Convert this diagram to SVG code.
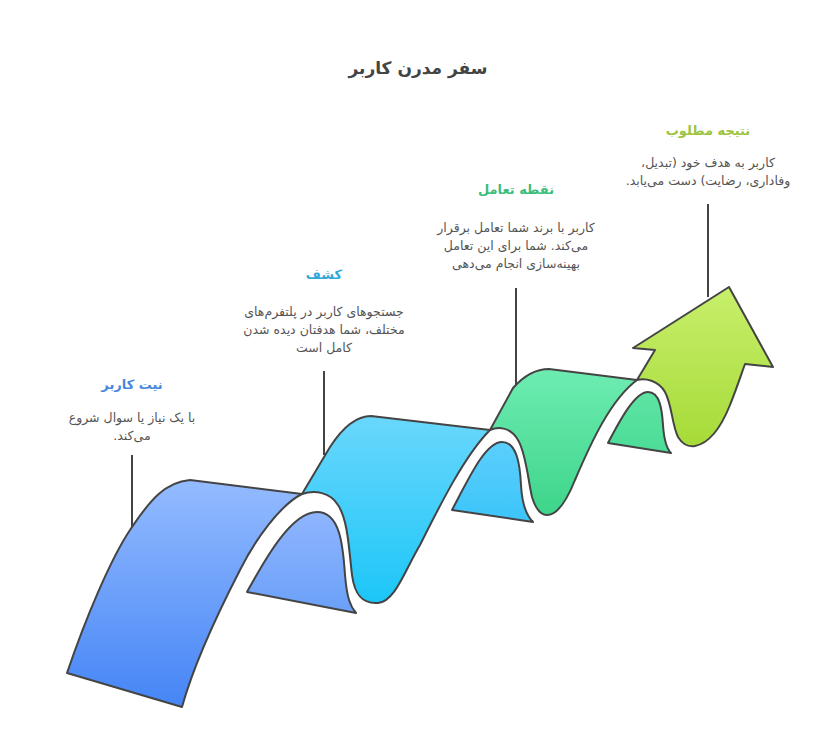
<svg xmlns="http://www.w3.org/2000/svg" width="840" height="742" viewBox="0 0 840 742">
<defs>
<linearGradient id="gBlue" x1="0" y1="0" x2="0" y2="1"><stop offset="0" stop-color="#94bbff"/><stop offset="1" stop-color="#4585f6"/></linearGradient>
<linearGradient id="gBlueB" x1="0" y1="0" x2="0" y2="1"><stop offset="0" stop-color="#8fb5ff"/><stop offset="1" stop-color="#6aa0f8"/></linearGradient>
<linearGradient id="gCyan" x1="0" y1="0" x2="0" y2="1"><stop offset="0" stop-color="#6ad7fc"/><stop offset="1" stop-color="#1cc6f8"/></linearGradient>
<linearGradient id="gCyanB" x1="0" y1="0" x2="0" y2="1"><stop offset="0" stop-color="#5ccffc"/><stop offset="1" stop-color="#3cc4fa"/></linearGradient>
<linearGradient id="gGreen" x1="0" y1="0" x2="0" y2="1"><stop offset="0" stop-color="#6eecb2"/><stop offset="1" stop-color="#3ed58a"/></linearGradient>
<linearGradient id="gGreenB" x1="0" y1="0" x2="0" y2="1"><stop offset="0" stop-color="#5ee4a4"/><stop offset="1" stop-color="#4cdc98"/></linearGradient>
<linearGradient id="gLime" x1="0" y1="0" x2="0" y2="1"><stop offset="0" stop-color="#c8ef6c"/><stop offset="1" stop-color="#a6db38"/></linearGradient>
</defs>
<style>
.shape{stroke:#444;stroke-width:2;stroke-linejoin:round}
.conn{stroke:#444;stroke-width:2;fill:none}
text{direction:rtl;unicode-bidi:embed;text-anchor:middle}
.title{font-family:"DejaVu Sans",sans-serif;font-weight:bold;font-size:17px;fill:#444}
.head{font-family:"DejaVu Sans",sans-serif;font-weight:bold;font-size:13px}
.body{font-family:"DejaVu Sans",sans-serif;font-size:12.5px;fill:#555}
</style>
<rect width="840" height="742" fill="#fff"/>
<text class="title" x="418" y="74">&#x200F;سفر مدرن کاربر&#x200F;</text>

<g id="connectors">
<line class="conn" x1="132" y1="455" x2="132" y2="527"/>
<line class="conn" x1="324" y1="371" x2="324" y2="455"/>
<line class="conn" x1="516" y1="288" x2="516" y2="389"/>
<line class="conn" x1="708" y1="204" x2="708" y2="297"/>
</g>

<g id="stage1">
<path class="shape" fill="url(#gBlueB)" d="M247,592 C262,565 290,512 317,512 C340,512 343,545 345,575 C347,598 350,606 356,613 Z"/>
<path class="shape" fill="url(#gBlue)" d="M67,673 C85,620 110,560 130,530 C150,500 165,482 190,480 L302,494 C280,505 255,540 240,570 C222,605 195,660 182,707 Z"/>
<text class="head" x="132" y="389" fill="#4a86dc">&#x200F;نیت کاربر&#x200F;</text>
<text class="body" x="132" y="422">&#x200F;با یک نیاز یا سوال شروع&#x200F;</text>
<text class="body" x="132" y="440">&#x200F;می‌کند.&#x200F;</text>
</g>

<g id="stage2">
<path class="shape" fill="url(#gCyanB)" d="M452,510 C468,480 485,442 502,442 C517,442 520,465 521,485 C522,505 526,515 533,522 Z"/>
<path class="shape" fill="url(#gCyan)" d="M302,494 C315,490 330,492 338,505 C348,520 349,550 352,575 C355,598 365,604 378,603 C395,602 405,570 420,545 C440,505 465,455 490,430 L371,416 C354,416 341,430 330,447 Z"/>
<text class="head" x="324" y="279" fill="#2fa8d9">&#x200F;کشف&#x200F;</text>
<text class="body" x="324" y="316">&#x200F;جستجوهای کاربر در پلتفرم‌های&#x200F;</text>
<text class="body" x="324" y="334">&#x200F;مختلف، شما هدفتان دیده شدن&#x200F;</text>
<text class="body" x="324" y="352">&#x200F;کامل است&#x200F;</text>
</g>

<g id="stage3">
<path class="shape" fill="url(#gGreenB)" d="M608,443 C620,420 635,392 648,392 C660,392 662,410 663,425 C664,440 666,448 671,453 Z"/>
<path class="shape" fill="url(#gGreen)" d="M490,430 C497,427 510,426 518,440 C526,453 528,480 532,497 C536,510 541,515 547,515 C555,515 565,505 575,480 C590,445 610,400 637,380 L549,369 C532,369 521,379 513,388 Z"/>
<text class="head" x="516" y="194" fill="#3dbd7c">&#x200F;نقطه تعامل&#x200F;</text>
<text class="body" x="516" y="232">&#x200F;کاربر با برند شما تعامل برقرار&#x200F;</text>
<text class="body" x="516" y="250">&#x200F;می‌کند. شما برای این تعامل&#x200F;</text>
<text class="body" x="516" y="268">&#x200F;بهینه‌سازی انجام می‌دهی&#x200F;</text>
</g>

<g id="stage4">
<path class="shape" fill="url(#gLime)" d="M637,380 C645,378 658,380 665,392 C672,405 672,425 678,437 C683,445 688,447 695,446 C710,443 722,425 730,405 C738,385 742,372 745,364 L773,367 L729,287 L633,348 L655,350 Z"/>
<text class="head" x="708" y="135" fill="#9dc53c">&#x200F;نتیجه مطلوب&#x200F;</text>
<text class="body" x="708" y="167">&#x200F;کاربر به هدف خود (تبدیل،&#x200F;</text>
<text class="body" x="708" y="185">&#x200F;وفاداری، رضایت) دست می‌یابد.&#x200F;</text>
</g>
</svg>
